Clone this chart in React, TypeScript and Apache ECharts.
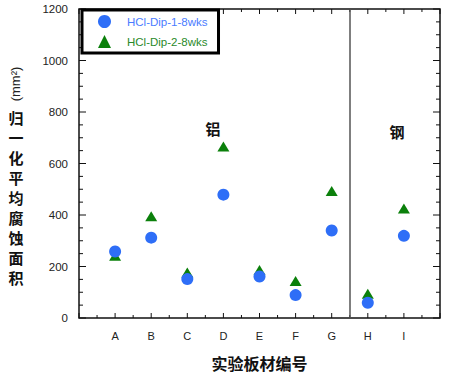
import React, { useEffect, useRef } from "react";
import * as echarts from "echarts";

const categories = ["A", "B", "C", "D", "E", "F", "G", "H", "I"];
const dip1Values = [258, 312, 151, 479, 161, 89, 340, 59, 319];
const dip2Values = [242, 395, 177, 666, 186, 144, 493, 94, 425];
const seriesNames = ["HCl-Dip-1-8wks", "HCl-Dip-2-8wks"];
const yTicks = [0, 200, 400, 600, 800, 1000, 1200];
const dividerX = 7.5;

export default function App() {
  const ref = useRef<HTMLDivElement>(null);
  useEffect(() => {
    if (!ref.current) return;
    const chart = echarts.init(ref.current, null, { renderer: "svg" });
    const c = "#111";
    const xMax = categories.length + 1;
    const yMin = yTicks[0];
    const yMax = yTicks[yTicks.length - 1];
    const yStep = yTicks[1] - yTicks[0];

    const frameRender = (_params: any, api: any) => {
      const children: any[] = [];
      const [x0, y0] = api.coord([0, yMin]);
      const [x1, y1] = api.coord([xMax, yMax]);
      children.push({
        type: "rect",
        shape: { x: x0, y: y1, width: x1 - x0, height: y0 - y1 },
        style: { fill: "none", stroke: c, lineWidth: 1.5 },
      });
      for (let k = 0; k <= xMax * 2; k++) {
        const v = k / 2;
        const px = api.coord([v, yMin])[0];
        const len = k % 2 === 0 ? 5 : 3;
        children.push({ type: "line", shape: { x1: px, y1: y0, x2: px, y2: y0 - len }, style: { stroke: c, lineWidth: 1 } });
        children.push({ type: "line", shape: { x1: px, y1: y1, x2: px, y2: y1 + len }, style: { stroke: c, lineWidth: 1 } });
      }
      const minorY = yStep / 4;
      for (let v = yMin; v <= yMax; v += minorY) {
        const py = api.coord([0, v])[1];
        const len = v % yStep === 0 ? 7 : 4;
        children.push({ type: "line", shape: { x1: x0, y1: py, x2: x0 + len, y2: py }, style: { stroke: c, lineWidth: 1 } });
        children.push({ type: "line", shape: { x1: x1, y1: py, x2: x1 - len, y2: py }, style: { stroke: c, lineWidth: 1 } });
      }
      return { type: "group", children };
    };

    chart.setOption({
      animation: false,
      grid: { left: 79, top: 9, width: 361, height: 313 },
      xAxis: {
        type: "value",
        min: 0,
        max: xMax,
        interval: 1,
        axisLine: { show: false },
        axisTick: { show: false },
        splitLine: { show: false },
        axisLabel: {
          show: true, margin: 12, fontFamily: "Arial, 'Liberation Sans'", fontSize: 11, color: "#222",
          formatter: (v: number) => (v >= 1 && v <= categories.length ? categories[v - 1] : ""),
        },
        name: "实验板材编号",
        nameLocation: "middle",
        nameGap: 37,
        nameTextStyle: { fontFamily: "'Noto Sans CJK SC'", fontSize: 16, fontWeight: "bold", color: "#111" },
      },
      yAxis: {
        type: "value",
        min: yMin,
        max: yMax,
        interval: yStep,
        axisLine: { show: false },
        axisTick: { show: false },
        splitLine: { show: false },
        axisLabel: {
          show: true, margin: 11, fontFamily: "Arial, 'Liberation Sans'", fontSize: 11.5, color: "#222",
          formatter: (v: number) => String(v),
        },
      },
      legend: {
        orient: "vertical",
        left: 82,
        top: 10,
        backgroundColor: "#fff",
        borderColor: "#000",
        borderWidth: 3,
        borderRadius: 0,
        padding: [5, 11, 5, 16],
        itemWidth: 13,
        itemHeight: 13,
        itemGap: 7,
        z: 10,
        data: [
          { name: seriesNames[0], icon: "circle", textStyle: { color: "#4a7cff" } },
          { name: seriesNames[1], icon: "triangle", textStyle: { color: "#2a8a2a" } },
        ],
        textStyle: { fontFamily: "Arial, 'Liberation Sans'", fontSize: 11.5, padding: [0, 0, 0, 11] },
      },
      series: [
        {
          type: "custom",
          silent: true,
          clip: false,
          renderItem: frameRender,
          data: [[0, yMin]],
          z: 1,
        },
        {
          name: seriesNames[0],
          type: "scatter",
          symbol: "circle",
          symbolSize: 12,
          itemStyle: { color: "#2e6ef7", opacity: 1 },
          data: dip1Values.map((v, i) => [i + 1, v]),
          z: 3,
          markLine: {
            silent: true,
            symbol: "none",
            label: { show: false },
            lineStyle: { color: "#555", width: 1.5, type: "solid" },
            data: [{ xAxis: dividerX }],
          },
        },
        {
          name: seriesNames[1],
          type: "scatter",
          symbol: "triangle",
          symbolSize: [12, 10],
          itemStyle: { color: "#0b800b", opacity: 1 },
          data: dip2Values.map((v, i) => [i + 1, v]),
          z: 2,
        },
      ],
      graphic: [
        {
          type: "text", x: 15, y: 84, rotation: Math.PI / 2,
          style: { text: "(mm²)", fontFamily: "Arial, 'Liberation Sans'", fontSize: 13, fill: "#222", align: "center", verticalAlign: "middle" },
        },
        {
          type: "text", x: 16, y: 197,
          style: {
            text: "归一化平均腐蚀面积".split("").join("\n"),
            fontFamily: "'Noto Sans CJK SC'", fontSize: 15, fontWeight: "bold", lineHeight: 20,
            fill: "#111", align: "center", verticalAlign: "middle",
          },
        },
        {
          type: "text", x: 213, y: 128,
          style: { text: "铝", fontFamily: "'Noto Sans CJK SC'", fontSize: 15, fontWeight: "bold", fill: "#111", align: "center", verticalAlign: "middle" },
        },
        {
          type: "text", x: 397, y: 131,
          style: { text: "钢", fontFamily: "'Noto Sans CJK SC'", fontSize: 15, fontWeight: "bold", fill: "#111", align: "center", verticalAlign: "middle" },
        },
      ],
    });
    return () => chart.dispose();
  }, []);
  return <div ref={ref} style={{ width: 449, height: 376, position: "absolute", left: 0, top: 0 }} />;
}
